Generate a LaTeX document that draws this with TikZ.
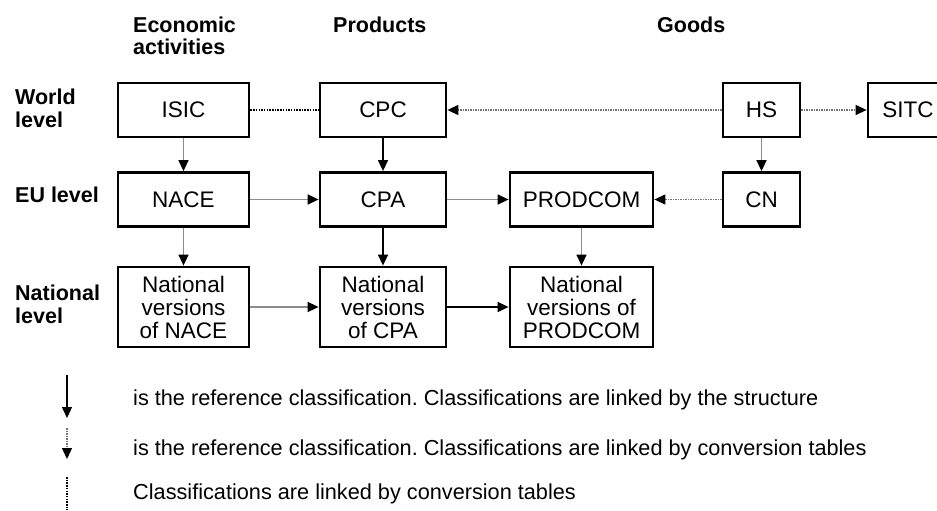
\documentclass[tikz,border=0pt]{standalone}
\usepackage{fontspec}
\setmainfont{Liberation Sans}
\usetikzlibrary{arrows.meta}
\frenchspacing
\begin{document}
\begin{tikzpicture}[x=1pt,y=-1pt,
  box/.style={draw,line width=2.8pt,minimum height=54pt,inner sep=0pt,align=center,font=\fontsize{22.5}{23}\selectfont},
  lbl/.style={anchor=north west,inner sep=0pt,align=left,font=\fontsize{21.5}{23}\selectfont\bfseries},
  leg/.style={anchor=base west,inner sep=0pt,font=\fontsize{21.7}{23}\selectfont},
  tip/.style={-{Triangle[length=11pt,width=10pt,color=black]}},
  strong/.style={tip,line width=1.4pt,black},
  soft/.style={tip,line width=1.5pt,black!45},
  conv/.style={tip,line width=1.3pt,black!55,dash pattern=on 1.5pt off 1pt},
  link/.style={line width=1.3pt,black,dash pattern=on 1.5pt off 1.2pt}]
\useasboundingbox (0,0) rectangle (937,511);
\fill[white] (0,0) rectangle (937,511);
% headers
\node[lbl,font=\fontsize{21.5}{22}\selectfont\bfseries] (h1) at (133,17) {Economic\\activities};
\node[lbl] (h2) at (333,17) {Products};
\node[lbl] (h3) at (657,17) {Goods};
% row labels
\node[lbl] (r1) at (15,89) {World\\level};
\node[lbl] (r2) at (15,187) {EU level};
\node[lbl] (r3) at (15,285) {National\\level};
% boxes
\node[box,minimum width=131pt] (isic) at (183.5,110) {ISIC};
\node[box,minimum width=126pt] (cpc) at (383,110) {CPC};
\node[box,minimum width=77pt] (hs) at (761.5,110) {HS};
\node[box,minimum width=80pt] (sitc) at (908,110) {SITC};
\node[box,minimum width=131pt] (nace) at (183.5,199.5) {NACE};
\node[box,minimum width=126pt] (cpa) at (383,199.5) {CPA};
\node[box,minimum width=143pt] (prod) at (581.5,199.5) {PRODCOM};
\node[box,minimum width=77pt] (cn) at (761.5,199.5) {CN};
\node[box,minimum width=131pt,minimum height=80pt] (nnace) at (183.5,307) {National\\versions\\of NACE};
\node[box,minimum width=126pt,minimum height=80pt] (ncpa) at (383,307) {National\\versions\\of CPA};
\node[box,minimum width=143pt,minimum height=80pt] (nprod) at (581.5,307) {National\\versions of\\PRODCOM};
% connectors
\draw[soft] (isic) -- (nace);
\draw[strong] (cpc) -- (cpa);
\draw[soft] (hs) -- (cn);
\draw[soft] (nace) -- (nnace);
\draw[strong] (cpa) -- (ncpa);
\draw[soft] (prod) -- (nprod);
\draw[soft] (nace) -- (cpa);
\draw[soft] (cpa) -- (prod);
\draw[soft] (nnace) -- (ncpa);
\draw[strong] (ncpa) -- (nprod);
\draw[link] (isic) -- (cpc);
\draw[conv] (hs) -- (cpc);
\draw[conv] (hs) -- (sitc);
\draw[conv] (cn) -- (prod);
% legend
\coordinate (a1) at (67,375); \coordinate (a2) at (67,418);
\coordinate (b1) at (67,428); \coordinate (b2) at (67,459);
\coordinate (c1) at (67,477); \coordinate (c2) at (67,510);
\draw[strong] (a1) -- (a2);
\draw[conv] (b1) -- (b2);
\draw[link] (c1) -- (c2);
\node[leg] (l1) at (133,405) {is the reference classification. Classifications are linked by the structure};
\node[leg] (l2) at (133,455) {is the reference classification. Classifications are linked by conversion tables};
\node[leg] (l3) at (133,499) {Classifications are linked by conversion tables};
\end{tikzpicture}
\end{document}
